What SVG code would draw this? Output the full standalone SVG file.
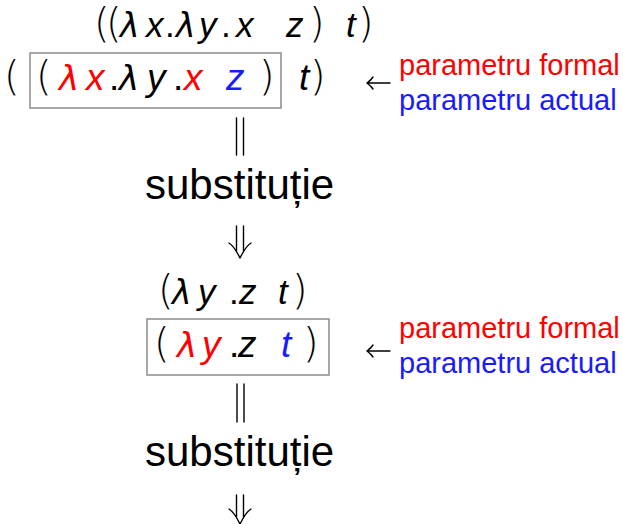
<svg xmlns="http://www.w3.org/2000/svg" width="623" height="524" viewBox="0 0 623 524">
<style>
text{font-family:"Liberation Sans",Arial,sans-serif;fill:#000}
.m{font-size:35px;font-style:italic}
.M{font-size:37px;font-style:italic}
.l{font-family:"DejaVu Sans",sans-serif;font-size:33px;font-style:italic}
.L{font-family:"DejaVu Sans",sans-serif;font-size:34px;font-style:italic}
.p{font-family:"DejaVu Sans ExtraLight","DejaVu Sans Light","Liberation Sans",sans-serif;font-weight:200;font-size:40px;font-style:normal}
.d{font-style:normal}
.r{fill:#ff0000}
.b{fill:#1a1aff}
.lab{font-size:29px}
.sub{font-size:42px}
.box{fill:none;stroke:#8c8c8c;stroke-width:1.5}
.arr{fill:none;stroke:#000;stroke-width:1.4;stroke-linecap:round}
</style>
<rect width="623" height="524" fill="#fff"/>
<g id="term1">
<text class="m" y="37"><tspan class="p" x="94">(</tspan><tspan class="p" x="106">(</tspan><tspan class="l" x="120">λ</tspan><tspan x="146">x</tspan><tspan class="d" x="165">.</tspan><tspan class="l" x="176">λ</tspan><tspan x="199">y</tspan><tspan class="d" x="221">.</tspan><tspan x="236">x</tspan><tspan x="286">z</tspan><tspan class="p" x="309">)</tspan><tspan x="346">t</tspan><tspan class="p" x="358">)</tspan></text>
</g>
<g id="redex1">
<rect class="box" x="30" y="53" width="251" height="55"/>
<text class="M" y="90"><tspan class="p" x="4">(</tspan><tspan class="p" x="36">(</tspan><tspan class="L r" x="59">λ</tspan><tspan class="r" x="86">x</tspan><tspan class="d" x="109">.</tspan><tspan class="L" x="119">λ</tspan><tspan x="147">y</tspan><tspan class="d" x="173">.</tspan><tspan class="r" x="184">x</tspan><tspan class="b" x="226">z</tspan><tspan class="p" x="259">)</tspan><tspan x="299">t</tspan><tspan class="p" x="310">)</tspan></text>
</g>
<g id="label1">
<text class="lab r" x="399" y="75">parametru formal</text>
<text class="lab b" x="399" y="110">parametru actual</text>
</g>
<g id="step1">
<text class="sub" x="145" y="199">substituție</text>
</g>
<g id="term2">
<text class="m" y="304"><tspan class="p" x="158">(</tspan><tspan class="l" x="172">λ</tspan><tspan x="198">y</tspan><tspan class="d" x="229">.</tspan><tspan x="239">z</tspan><tspan x="278">t</tspan><tspan class="p" x="292">)</tspan></text>
</g>
<g id="redex2">
<rect class="box" x="147" y="319" width="182" height="56"/>
<text class="M" y="357"><tspan class="p" x="154">(</tspan><tspan class="L r" x="177">λ</tspan><tspan class="r" x="202">y</tspan><tspan class="d" x="229">.</tspan><tspan x="238">z</tspan><tspan class="b" x="281">t</tspan><tspan class="p" x="303">)</tspan></text>
</g>
<g id="label2">
<text class="lab r" x="399" y="338">parametru formal</text>
<text class="lab b" x="399" y="373">parametru actual</text>
</g>
<g id="step2">
<text class="sub" x="145" y="466">substituție</text>
</g>
<g id="connectors">
<path class="arr" d="M367 83H390M367 83Q371 80 373 77M367 83Q371 86 373 89"/>
<path class="arr" d="M367 351H390M367 351Q371 348 373 345M367 351Q371 354 373 357"/>
<path class="arr" d="M236.5 118V155M243.5 118V155"/>
<path class="arr" d="M237 384V422M244 384V422"/>
<path class="arr" d="M236.5 226V251M243.5 226V251M240 258Q234 246 229 243M240 258Q246 246 251 243"/>
<path class="arr" d="M236.5 495V518M243.5 495V518M240 524Q234 512 229 509M240 524Q246 512 251 509"/>
</g>
</svg>
